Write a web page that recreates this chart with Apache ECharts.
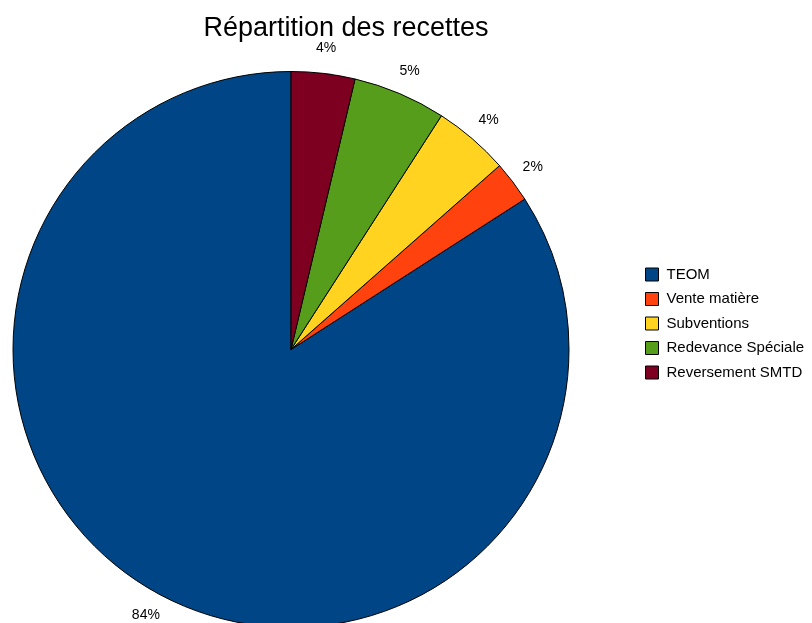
<!DOCTYPE html>
<html style="height: 100%">
<head>
<meta charset="utf-8">
<script src="https://cdn.jsdelivr.net/npm/echarts@6/dist/echarts.min.js"></script>
</head>
<body style="height: 100%; margin: 0; background: #fff">
<div id="main" style="width: 812px; height: 623px"></div>
<script>
var categories = ['TEOM', 'Vente matière', 'Subventions', 'Redevance Spéciale', 'Reversement SMTD'];
var values = [84.1, 2.4, 4.4, 5.4, 3.7];
var colors = ['#004586', '#ff420e', '#ffd320', '#579d1c', '#7e0021'];

var pieData = categories.map(function (name, i) {
    return { name: name, value: values[i], itemStyle: { color: colors[i] } };
});

var chart = echarts.init(document.getElementById('main'));
var option = {
    backgroundColor: '#fff',
    animation: false,
    title: {
        text: 'Répartition des recettes',
        left: 341,
        textAlign: 'center',
        top: 10,
        textStyle: { fontFamily: 'Liberation Sans', fontSize: 27, fontWeight: 'normal', color: '#000' }
    },
    legend: {
        orient: 'vertical',
        left: 640,
        top: 262,
        itemWidth: 13,
        itemHeight: 13,
        itemGap: 9.5,
        icon: 'rect',
        data: categories,
        itemStyle: { borderColor: '#000', borderWidth: 1 },
        textStyle: { fontFamily: 'Liberation Sans', fontSize: 15, color: '#000', padding: [0, 0, 0, 3] }
    },
    series: [
        {
            type: 'pie',
            center: [291, 349.5],
            radius: 278,
            startAngle: 90,
            clockwise: false,
            data: pieData,
            label: { show: false },
            labelLine: { show: false },
            itemStyle: { borderColor: '#000', borderWidth: 1 },
            emphasis: { disabled: true }
        },
        {
            // transparent ring used only to place the percent labels outside the pie
            type: 'pie',
            center: [291, 349.5],
            radius: [292, 308],
            startAngle: 90,
            clockwise: false,
            silent: true,
            data: pieData.map(function (d) { return { name: d.name, value: d.value }; }),
            itemStyle: { color: 'rgba(0,0,0,0)', borderWidth: 0 },
            label: {
                show: true,
                position: 'inside',
                color: '#000',
                fontFamily: 'Liberation Sans',
                fontSize: 14,
                formatter: function (p) { return Math.round(p.percent) + '%'; }
            },
            labelLine: { show: false },
            emphasis: { disabled: true }
        }
    ]
};
chart.setOption(option);
</script>
</body>
</html>
